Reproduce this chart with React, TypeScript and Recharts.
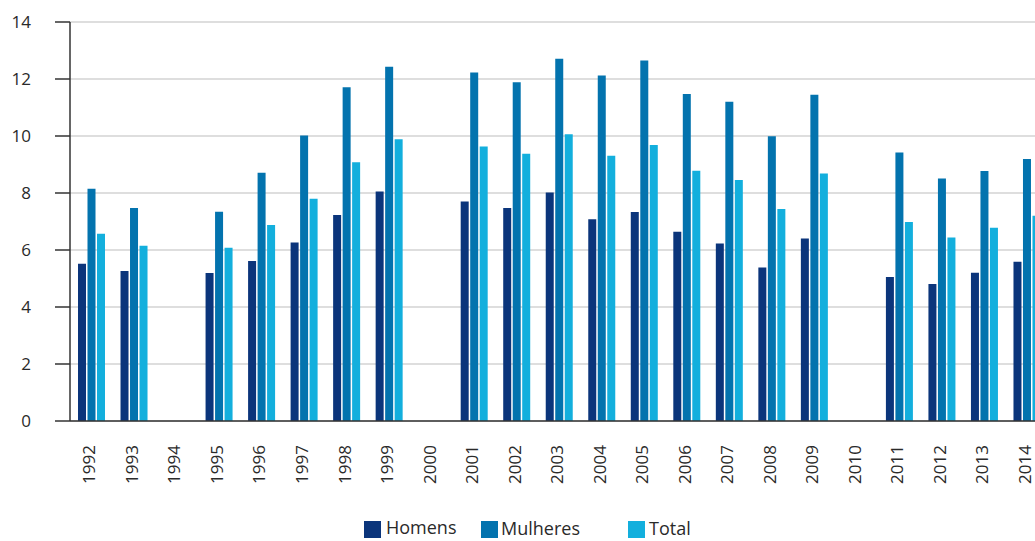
import React from "react";
import { BarChart, Bar, XAxis, YAxis, CartesianGrid } from "recharts";

const years = [
  "1992", "1993", "1994", "1995", "1996", "1997", "1998", "1999", "2000", "2001", "2002",
  "2003", "2004", "2005", "2006", "2007", "2008", "2009", "2010", "2011", "2012", "2013", "2014",
];

const homens = [
  5.52, 5.26, null, 5.19, 5.61, 6.26, 7.23, 8.05, null, 7.7, 7.47,
  8.02, 7.08, 7.33, 6.64, 6.23, 5.39, 6.4, null, 5.05, 4.81, 5.2, 5.59,
];

const mulheres = [
  8.15, 7.47, null, 7.34, 8.71, 10.02, 11.71, 12.43, null, 12.23, 11.89,
  12.71, 12.12, 12.65, 11.47, 11.2, 9.99, 11.45, null, 9.42, 8.51, 8.77, 9.19,
];

const total = [
  6.57, 6.15, null, 6.08, 6.88, 7.8, 9.08, 9.89, null, 9.63, 9.38,
  10.06, 9.31, 9.68, 8.78, 8.46, 7.44, 8.68, null, 6.98, 6.44, 6.78, 7.2,
];

const yTicks = [0, 2, 4, 6, 8, 10, 12, 14];

const series = [
  { key: "homens", name: "Homens", color: "#0b357b" },
  { key: "mulheres", name: "Mulheres", color: "#0373ae" },
  { key: "total", name: "Total", color: "#13afdd" },
];

const data = years.map((year, i) => ({
  year,
  homens: homens[i],
  mulheres: mulheres[i],
  total: total[i],
}));

const FONT = "'Open Sans', 'Noto Sans', sans-serif";
const TEXT = "#2a2a2a";

const YearTick = ({ x, y, payload }: { x: number; y: number; payload: { value: string } }) => (
  <text
    x={x - 2}
    y={y + 24}
    transform={`rotate(-90, ${x - 2}, ${y + 24})`}
    textAnchor="end"
    dy="0.36em"
    fill={TEXT}
    fontSize={17}
    fontFamily={FONT}
  >
    {payload.value}
  </text>
);

// legend is drawn by hand, the original spacing is uneven
const legendItems = [
  { ...series[0], left: 364, textLeft: 386, top: 515 },
  { ...series[1], left: 481, textLeft: 501, top: 516 },
  { ...series[2], left: 628, textLeft: 649, top: 516 },
];

export default function App() {
  return (
    <div
      style={{
        position: "absolute",
        left: 0,
        top: 0,
        width: 1035,
        height: 541,
        overflow: "hidden",
        background: "#fff",
        fontFamily: FONT,
      }}
    >
      <BarChart
        width={1048}
        height={541}
        data={data}
        margin={{ top: 22, right: 0, bottom: 0, left: 0 }}
        barSize={8}
        barGap={1.5}
      >
        <CartesianGrid vertical={false} stroke="#d3d3d3" strokeWidth={1.5} />
        <XAxis
          dataKey="year"
          height={120}
          tickLine={false}
          tickSize={0}
          tickMargin={0}
          interval={0}
          axisLine={{ stroke: "#333", strokeWidth: 1.5 }}
          tick={YearTick}
        />
        <YAxis
          width={70}
          domain={[0, 14]}
          ticks={yTicks}
          interval={0}
          tickSize={15}
          tickMargin={24}
          axisLine={{ stroke: "#333", strokeWidth: 1.5 }}
          tickLine={{ stroke: "#333", strokeWidth: 1.5 }}
          tick={{ fill: TEXT, fontSize: 17, fontFamily: FONT }}
        />
        {series.map((s) => (
          <Bar
            key={s.key}
            dataKey={s.key}
            name={s.name}
            fill={s.color}
            isAnimationActive={false}
          />
        ))}
      </BarChart>

      {legendItems.map((item) => (
        <React.Fragment key={item.key}>
          <div
            style={{
              position: "absolute",
              left: item.left,
              top: 521,
              width: 17,
              height: 17,
              background: item.color,
            }}
          />
          <div
            style={{
              position: "absolute",
              left: item.textLeft,
              top: item.top,
              fontSize: 18,
              lineHeight: "24px",
              color: TEXT,
              whiteSpace: "nowrap",
            }}
          >
            {item.name}
          </div>
        </React.Fragment>
      ))}
    </div>
  );
}
